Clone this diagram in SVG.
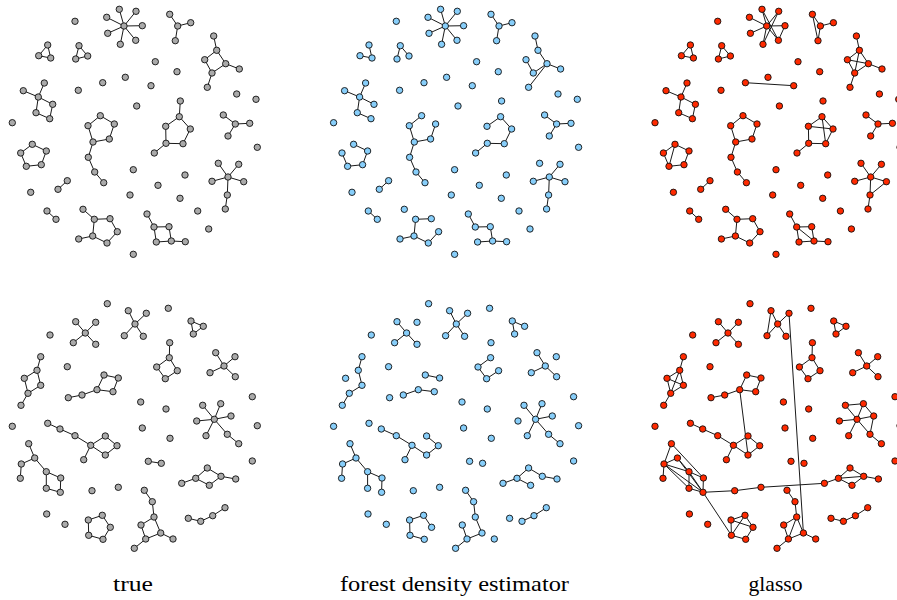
<svg xmlns="http://www.w3.org/2000/svg" width="897" height="600" viewBox="0 0 897 600">
<style>
.edges path{fill:none;stroke:#1a1a1a;stroke-width:1}
circle{r:3.2px;stroke:#111;stroke-width:0.9}
.true circle{fill:#aaaaaa}
.fde circle{fill:#87cefa}
.gl circle{fill:#ff2a00}
text{font-family:"Liberation Serif","Times New Roman",serif;font-size:21px;fill:#000;text-anchor:middle}
</style>
<rect width="897" height="600" fill="#fff"/>

<!-- ===== top row, panel 1: true graph ===== -->
<g id="true-top" class="true">
<g class="edges"><path d="M124 26L119.3 9.3M124 26L136 11.3M124 26L106.7 17.3M124 26L142.3 25.7M124 26L107.7 33.3M124 26L120.3 44.3M124 26L135.7 40.3M177.7 26L169.7 14.3M177.7 26L190.7 22.7M177.7 26L175.3 40.7M47.7 45L38.7 55.7L50.7 58ZM79 45.7L75.7 59L87.7 56ZM213.7 36L216.7 50.3L204.7 59.7L212 73L225.7 63.7L216.7 50.3M225.7 63.7L239.3 69M212 73L207.3 87.3M44.3 83L38.3 97L23.3 90.7M38.3 97L52.7 104.3L49.7 118.7L36 112.7L38.3 97M100.3 115.7L88 125.7L93 142L109.3 139L114.3 124ZM93 142L88.3 157.3L94.7 172L103.7 182.7M180.3 101L179.3 116.7L165.7 126.3L166 143.3L183 143.7L190.3 129L179.3 116.7M166 143.3L154.3 153M223.3 115L235.3 124L249.7 123.3M235.3 124L228 136M32.3 144.3L20.7 153L26.3 166.3L41.3 164.7L46.3 151ZM67.3 180.7L58 189.3M47 211L56 219.3M228 177L218.3 163.3M228 177L238.7 164.3M228 177L212 181.3M228 177L243.7 181.7M228 177L227.3 195L225.3 209M83 209.3L94.3 219.3L110 218.7L117.3 231.7L107 243L92.7 236L94.3 219.3M92.7 236L78.7 239M147 214L154 227L169 226.7L171.3 241L156.3 242L154 227M171.3 241L185.3 241.7"/></g>
<g class="nodes">
<g id="tt01"><circle cx="75" cy="21.3"/></g><g id="tt02"><circle cx="124" cy="26"/></g><g id="tt03"><circle cx="119.3" cy="9.3"/></g><g id="tt04"><circle cx="136" cy="11.3"/></g><g id="tt05"><circle cx="106.7" cy="17.3"/></g><g id="tt06"><circle cx="142.3" cy="25.7"/></g><g id="tt07"><circle cx="107.7" cy="33.3"/></g><g id="tt08"><circle cx="120.3" cy="44.3"/></g><g id="tt09"><circle cx="135.7" cy="40.3"/></g><g id="tt10"><circle cx="177.7" cy="26"/></g>
<g id="tt11"><circle cx="169.7" cy="14.3"/></g><g id="tt12"><circle cx="190.7" cy="22.7"/></g><g id="tt13"><circle cx="175.3" cy="40.7"/></g><g id="tt14"><circle cx="47.7" cy="45"/></g><g id="tt15"><circle cx="38.7" cy="55.7"/></g><g id="tt16"><circle cx="50.7" cy="58"/></g><g id="tt17"><circle cx="79" cy="45.7"/></g><g id="tt18"><circle cx="75.7" cy="59"/></g><g id="tt19"><circle cx="87.7" cy="56"/></g><g id="tt20"><circle cx="213.7" cy="36"/></g>
<g id="tt21"><circle cx="216.7" cy="50.3"/></g><g id="tt22"><circle cx="204.7" cy="59.7"/></g><g id="tt23"><circle cx="225.7" cy="63.7"/></g><g id="tt24"><circle cx="239.3" cy="69"/></g><g id="tt25"><circle cx="212" cy="73"/></g><g id="tt26"><circle cx="207.3" cy="87.3"/></g><g id="tt27"><circle cx="155.3" cy="61.7"/></g><g id="tt28"><circle cx="177" cy="71.7"/></g><g id="tt29"><circle cx="125.3" cy="77.3"/></g><g id="tt30"><circle cx="102.7" cy="82.7"/></g>
<g id="tt31"><circle cx="78.3" cy="90.3"/></g><g id="tt32"><circle cx="151" cy="85.7"/></g><g id="tt33"><circle cx="136.7" cy="106"/></g><g id="tt34"><circle cx="236.7" cy="94"/></g><g id="tt35"><circle cx="256" cy="99.3"/></g><g id="tt36"><circle cx="12.3" cy="122.7"/></g><g id="tt37"><circle cx="44.3" cy="83"/></g><g id="tt38"><circle cx="23.3" cy="90.7"/></g><g id="tt39"><circle cx="38.3" cy="97"/></g><g id="tt40"><circle cx="52.7" cy="104.3"/></g>
<g id="tt41"><circle cx="36" cy="112.7"/></g><g id="tt42"><circle cx="49.7" cy="118.7"/></g><g id="tt43"><circle cx="100.3" cy="115.7"/></g><g id="tt44"><circle cx="88" cy="125.7"/></g><g id="tt45"><circle cx="114.3" cy="124"/></g><g id="tt46"><circle cx="93" cy="142"/></g><g id="tt47"><circle cx="109.3" cy="139"/></g><g id="tt48"><circle cx="88.3" cy="157.3"/></g><g id="tt49"><circle cx="94.7" cy="172"/></g><g id="tt50"><circle cx="103.7" cy="182.7"/></g>
<g id="tt51"><circle cx="180.3" cy="101"/></g><g id="tt52"><circle cx="179.3" cy="116.7"/></g><g id="tt53"><circle cx="165.7" cy="126.3"/></g><g id="tt54"><circle cx="190.3" cy="129"/></g><g id="tt55"><circle cx="166" cy="143.3"/></g><g id="tt56"><circle cx="183" cy="143.7"/></g><g id="tt57"><circle cx="154.3" cy="153"/></g><g id="tt58"><circle cx="223.3" cy="115"/></g><g id="tt59"><circle cx="235.3" cy="124"/></g><g id="tt60"><circle cx="249.7" cy="123.3"/></g>
<g id="tt61"><circle cx="228" cy="136"/></g><g id="tt62"><circle cx="257.3" cy="147.3"/></g><g id="tt63"><circle cx="32.3" cy="144.3"/></g><g id="tt64"><circle cx="20.7" cy="153"/></g><g id="tt65"><circle cx="46.3" cy="151"/></g><g id="tt66"><circle cx="26.3" cy="166.3"/></g><g id="tt67"><circle cx="41.3" cy="164.7"/></g><g id="tt68"><circle cx="133.3" cy="169.7"/></g><g id="tt69"><circle cx="185" cy="175"/></g><g id="tt70"><circle cx="158" cy="185.3"/></g>
<g id="tt71"><circle cx="30.7" cy="192.3"/></g><g id="tt72"><circle cx="130" cy="195"/></g><g id="tt73"><circle cx="180" cy="198.3"/></g><g id="tt74"><circle cx="197.7" cy="211"/></g><g id="tt75"><circle cx="208.7" cy="229"/></g><g id="tt76"><circle cx="133.3" cy="254.3"/></g><g id="tt77"><circle cx="67.3" cy="180.7"/></g><g id="tt78"><circle cx="58" cy="189.3"/></g><g id="tt79"><circle cx="47" cy="211"/></g><g id="tt80"><circle cx="56" cy="219.3"/></g>
<g id="tt81"><circle cx="228" cy="177"/></g><g id="tt82"><circle cx="218.3" cy="163.3"/></g><g id="tt83"><circle cx="238.7" cy="164.3"/></g><g id="tt84"><circle cx="212" cy="181.3"/></g><g id="tt85"><circle cx="243.7" cy="181.7"/></g><g id="tt86"><circle cx="227.3" cy="195"/></g><g id="tt87"><circle cx="225.3" cy="209"/></g><g id="tt88"><circle cx="83" cy="209.3"/></g><g id="tt89"><circle cx="94.3" cy="219.3"/></g><g id="tt90"><circle cx="110" cy="218.7"/></g>
<g id="tt91"><circle cx="117.3" cy="231.7"/></g><g id="tt92"><circle cx="92.7" cy="236"/></g><g id="tt93"><circle cx="107" cy="243"/></g><g id="tt94"><circle cx="78.7" cy="239"/></g><g id="tt95"><circle cx="147" cy="214"/></g><g id="tt96"><circle cx="154" cy="227"/></g><g id="tt97"><circle cx="169" cy="226.7"/></g><g id="tt98"><circle cx="156.3" cy="242"/></g><g id="tt99"><circle cx="171.3" cy="241"/></g><g id="tt100"><circle cx="185.3" cy="241.7"/></g>
</g>
</g>

<!-- ===== top row, panel 2: forest density estimator ===== -->
<g id="fde-top" class="fde" transform="translate(321.3 0)">
<g class="edges"><path d="M124 26L119.3 9.3M124 26L136 11.3M124 26L106.7 17.3M124 26L142.3 25.7M124 26L107.7 33.3M124 26L120.3 44.3M124 26L135.7 40.3M177.7 26L169.7 14.3M177.7 26L190.7 22.7M177.7 26L175.3 40.7M47.7 45L50.7 58L38.7 55.7M75.7 59L79 45.7L87.7 56M213.7 36L216.7 50.3L225.7 63.7L239.3 69M204.7 59.7L212 73L225.7 63.7L207.3 87.3M44.3 83L38.3 97L23.3 90.7M38.3 97L52.7 104.3M38.3 97L36 112.7L49.7 118.7M100.3 115.7L88 125.7L93 142L109.3 139L114.3 124M93 142L88.3 157.3L94.7 172L103.7 182.7M165.7 126.3L179.3 116.7L190.3 129L183 143.7L166 143.3L154.3 153M223.3 115L235.3 124L249.7 123.3M235.3 124L228 136M32.3 144.3L46.3 151L41.3 164.7L26.3 166.3L20.7 153M67.3 180.7L58 189.3M47 211L56 219.3M228 177L238.7 164.3M228 177L212 181.3M228 177L243.7 181.7M228 177L227.3 195L225.3 209M110 218.7L94.3 219.3L92.7 236L78.7 239M92.7 236L107 243L117.3 231.7M147 214L154 227L169 226.7L171.3 241L156.3 242M171.3 241L185.3 241.7"/></g>
<g class="nodes">
<g id="ft01"><circle cx="75" cy="21.3"/></g><g id="ft02"><circle cx="124" cy="26"/></g><g id="ft03"><circle cx="119.3" cy="9.3"/></g><g id="ft04"><circle cx="136" cy="11.3"/></g><g id="ft05"><circle cx="106.7" cy="17.3"/></g><g id="ft06"><circle cx="142.3" cy="25.7"/></g><g id="ft07"><circle cx="107.7" cy="33.3"/></g><g id="ft08"><circle cx="120.3" cy="44.3"/></g><g id="ft09"><circle cx="135.7" cy="40.3"/></g><g id="ft10"><circle cx="177.7" cy="26"/></g>
<g id="ft11"><circle cx="169.7" cy="14.3"/></g><g id="ft12"><circle cx="190.7" cy="22.7"/></g><g id="ft13"><circle cx="175.3" cy="40.7"/></g><g id="ft14"><circle cx="47.7" cy="45"/></g><g id="ft15"><circle cx="38.7" cy="55.7"/></g><g id="ft16"><circle cx="50.7" cy="58"/></g><g id="ft17"><circle cx="79" cy="45.7"/></g><g id="ft18"><circle cx="75.7" cy="59"/></g><g id="ft19"><circle cx="87.7" cy="56"/></g><g id="ft20"><circle cx="213.7" cy="36"/></g>
<g id="ft21"><circle cx="216.7" cy="50.3"/></g><g id="ft22"><circle cx="204.7" cy="59.7"/></g><g id="ft23"><circle cx="225.7" cy="63.7"/></g><g id="ft24"><circle cx="239.3" cy="69"/></g><g id="ft25"><circle cx="212" cy="73"/></g><g id="ft26"><circle cx="207.3" cy="87.3"/></g><g id="ft27"><circle cx="155.3" cy="61.7"/></g><g id="ft28"><circle cx="177" cy="71.7"/></g><g id="ft29"><circle cx="125.3" cy="77.3"/></g><g id="ft30"><circle cx="102.7" cy="82.7"/></g>
<g id="ft31"><circle cx="78.3" cy="90.3"/></g><g id="ft32"><circle cx="151" cy="85.7"/></g><g id="ft33"><circle cx="136.7" cy="106"/></g><g id="ft34"><circle cx="236.7" cy="94"/></g><g id="ft35"><circle cx="256" cy="99.3"/></g><g id="ft36"><circle cx="12.3" cy="122.7"/></g><g id="ft37"><circle cx="44.3" cy="83"/></g><g id="ft38"><circle cx="23.3" cy="90.7"/></g><g id="ft39"><circle cx="38.3" cy="97"/></g><g id="ft40"><circle cx="52.7" cy="104.3"/></g>
<g id="ft41"><circle cx="36" cy="112.7"/></g><g id="ft42"><circle cx="49.7" cy="118.7"/></g><g id="ft43"><circle cx="100.3" cy="115.7"/></g><g id="ft44"><circle cx="88" cy="125.7"/></g><g id="ft45"><circle cx="114.3" cy="124"/></g><g id="ft46"><circle cx="93" cy="142"/></g><g id="ft47"><circle cx="109.3" cy="139"/></g><g id="ft48"><circle cx="88.3" cy="157.3"/></g><g id="ft49"><circle cx="94.7" cy="172"/></g><g id="ft50"><circle cx="103.7" cy="182.7"/></g>
<g id="ft51"><circle cx="180.3" cy="101"/></g><g id="ft52"><circle cx="179.3" cy="116.7"/></g><g id="ft53"><circle cx="165.7" cy="126.3"/></g><g id="ft54"><circle cx="190.3" cy="129"/></g><g id="ft55"><circle cx="166" cy="143.3"/></g><g id="ft56"><circle cx="183" cy="143.7"/></g><g id="ft57"><circle cx="154.3" cy="153"/></g><g id="ft58"><circle cx="223.3" cy="115"/></g><g id="ft59"><circle cx="235.3" cy="124"/></g><g id="ft60"><circle cx="249.7" cy="123.3"/></g>
<g id="ft61"><circle cx="228" cy="136"/></g><g id="ft62"><circle cx="257.3" cy="147.3"/></g><g id="ft63"><circle cx="32.3" cy="144.3"/></g><g id="ft64"><circle cx="20.7" cy="153"/></g><g id="ft65"><circle cx="46.3" cy="151"/></g><g id="ft66"><circle cx="26.3" cy="166.3"/></g><g id="ft67"><circle cx="41.3" cy="164.7"/></g><g id="ft68"><circle cx="133.3" cy="169.7"/></g><g id="ft69"><circle cx="185" cy="175"/></g><g id="ft70"><circle cx="158" cy="185.3"/></g>
<g id="ft71"><circle cx="30.7" cy="192.3"/></g><g id="ft72"><circle cx="130" cy="195"/></g><g id="ft73"><circle cx="180" cy="198.3"/></g><g id="ft74"><circle cx="197.7" cy="211"/></g><g id="ft75"><circle cx="208.7" cy="229"/></g><g id="ft76"><circle cx="133.3" cy="254.3"/></g><g id="ft77"><circle cx="67.3" cy="180.7"/></g><g id="ft78"><circle cx="58" cy="189.3"/></g><g id="ft79"><circle cx="47" cy="211"/></g><g id="ft80"><circle cx="56" cy="219.3"/></g>
<g id="ft81"><circle cx="228" cy="177"/></g><g id="ft82"><circle cx="218.3" cy="163.3"/></g><g id="ft83"><circle cx="238.7" cy="164.3"/></g><g id="ft84"><circle cx="212" cy="181.3"/></g><g id="ft85"><circle cx="243.7" cy="181.7"/></g><g id="ft86"><circle cx="227.3" cy="195"/></g><g id="ft87"><circle cx="225.3" cy="209"/></g><g id="ft88"><circle cx="83" cy="209.3"/></g><g id="ft89"><circle cx="94.3" cy="219.3"/></g><g id="ft90"><circle cx="110" cy="218.7"/></g>
<g id="ft91"><circle cx="117.3" cy="231.7"/></g><g id="ft92"><circle cx="92.7" cy="236"/></g><g id="ft93"><circle cx="107" cy="243"/></g><g id="ft94"><circle cx="78.7" cy="239"/></g><g id="ft95"><circle cx="147" cy="214"/></g><g id="ft96"><circle cx="154" cy="227"/></g><g id="ft97"><circle cx="169" cy="226.7"/></g><g id="ft98"><circle cx="156.3" cy="242"/></g><g id="ft99"><circle cx="171.3" cy="241"/></g><g id="ft100"><circle cx="185.3" cy="241.7"/></g>
</g>
</g>

<!-- ===== top row, panel 3: glasso ===== -->
<g id="glasso-top" class="gl" transform="translate(642.7 0)">
<g class="edges"><path d="M124 26L119.3 9.3M124 26L136 11.3M124 26L106.7 17.3M124 26L142.3 25.7M124 26L107.7 33.3M124 26L120.3 44.3M124 26L135.7 40.3M119.3 9.3L135.7 40.3M136 11.3L120.3 44.3M142.3 25.7L135.7 40.3M177.7 26L169.7 14.3M177.7 26L190.7 22.7M177.7 26L175.3 40.7M169.7 14.3L175.3 40.7M47.7 45L38.7 55.7L50.7 58ZM79 45.7L75.7 59L87.7 56ZM213.7 36L216.7 50.3L204.7 59.7L212 73L225.7 63.7L216.7 50.3L212 73M204.7 59.7L225.7 63.7L239.3 69M212 73L207.3 87.3M102.7 82.7L151 85.7M44.3 83L38.3 97L23.3 90.7M38.3 97L52.7 104.3L49.7 118.7L36 112.7L38.3 97M100.3 115.7L88 125.7L93 142L109.3 139L114.3 124ZM93 142L88.3 157.3L94.7 172L103.7 182.7M179.3 116.7L165.7 126.3L190.3 129ZM165.7 126.3L166 143.3L183 143.7L190.3 129M179.3 116.7L183 143.7M166 143.3L154.3 153M223.3 115L235.3 124L249.7 123.3M235.3 124L228 136M32.3 144.3L20.7 153L26.3 166.3L41.3 164.7L46.3 151ZM32.3 144.3L26.3 166.3M67.3 180.7L58 189.3M47 211L56 219.3M228 177L218.3 163.3M228 177L238.7 164.3M228 177L212 181.3M228 177L243.7 181.7M228 177L227.3 195L225.3 209M227.3 195L243.7 181.7M83 209.3L94.3 219.3L110 218.7L117.3 231.7L107 243L92.7 236L94.3 219.3M92.7 236L78.7 239M147 214L154 227L169 226.7L171.3 241L156.3 242L154 227L171.3 241M171.3 241L185.3 241.7"/></g>
<g class="nodes">
<g id="gt01"><circle cx="75" cy="21.3"/></g><g id="gt02"><circle cx="124" cy="26"/></g><g id="gt03"><circle cx="119.3" cy="9.3"/></g><g id="gt04"><circle cx="136" cy="11.3"/></g><g id="gt05"><circle cx="106.7" cy="17.3"/></g><g id="gt06"><circle cx="142.3" cy="25.7"/></g><g id="gt07"><circle cx="107.7" cy="33.3"/></g><g id="gt08"><circle cx="120.3" cy="44.3"/></g><g id="gt09"><circle cx="135.7" cy="40.3"/></g><g id="gt10"><circle cx="177.7" cy="26"/></g>
<g id="gt11"><circle cx="169.7" cy="14.3"/></g><g id="gt12"><circle cx="190.7" cy="22.7"/></g><g id="gt13"><circle cx="175.3" cy="40.7"/></g><g id="gt14"><circle cx="47.7" cy="45"/></g><g id="gt15"><circle cx="38.7" cy="55.7"/></g><g id="gt16"><circle cx="50.7" cy="58"/></g><g id="gt17"><circle cx="79" cy="45.7"/></g><g id="gt18"><circle cx="75.7" cy="59"/></g><g id="gt19"><circle cx="87.7" cy="56"/></g><g id="gt20"><circle cx="213.7" cy="36"/></g>
<g id="gt21"><circle cx="216.7" cy="50.3"/></g><g id="gt22"><circle cx="204.7" cy="59.7"/></g><g id="gt23"><circle cx="225.7" cy="63.7"/></g><g id="gt24"><circle cx="239.3" cy="69"/></g><g id="gt25"><circle cx="212" cy="73"/></g><g id="gt26"><circle cx="207.3" cy="87.3"/></g><g id="gt27"><circle cx="155.3" cy="61.7"/></g><g id="gt28"><circle cx="177" cy="71.7"/></g><g id="gt29"><circle cx="125.3" cy="77.3"/></g><g id="gt30"><circle cx="102.7" cy="82.7"/></g>
<g id="gt31"><circle cx="78.3" cy="90.3"/></g><g id="gt32"><circle cx="151" cy="85.7"/></g><g id="gt33"><circle cx="136.7" cy="106"/></g><g id="gt34"><circle cx="236.7" cy="94"/></g><g id="gt35"><circle cx="256" cy="99.3"/></g><g id="gt36"><circle cx="12.3" cy="122.7"/></g><g id="gt37"><circle cx="44.3" cy="83"/></g><g id="gt38"><circle cx="23.3" cy="90.7"/></g><g id="gt39"><circle cx="38.3" cy="97"/></g><g id="gt40"><circle cx="52.7" cy="104.3"/></g>
<g id="gt41"><circle cx="36" cy="112.7"/></g><g id="gt42"><circle cx="49.7" cy="118.7"/></g><g id="gt43"><circle cx="100.3" cy="115.7"/></g><g id="gt44"><circle cx="88" cy="125.7"/></g><g id="gt45"><circle cx="114.3" cy="124"/></g><g id="gt46"><circle cx="93" cy="142"/></g><g id="gt47"><circle cx="109.3" cy="139"/></g><g id="gt48"><circle cx="88.3" cy="157.3"/></g><g id="gt49"><circle cx="94.7" cy="172"/></g><g id="gt50"><circle cx="103.7" cy="182.7"/></g>
<g id="gt51"><circle cx="180.3" cy="101"/></g><g id="gt52"><circle cx="179.3" cy="116.7"/></g><g id="gt53"><circle cx="165.7" cy="126.3"/></g><g id="gt54"><circle cx="190.3" cy="129"/></g><g id="gt55"><circle cx="166" cy="143.3"/></g><g id="gt56"><circle cx="183" cy="143.7"/></g><g id="gt57"><circle cx="154.3" cy="153"/></g><g id="gt58"><circle cx="223.3" cy="115"/></g><g id="gt59"><circle cx="235.3" cy="124"/></g><g id="gt60"><circle cx="249.7" cy="123.3"/></g>
<g id="gt61"><circle cx="228" cy="136"/></g><g id="gt62"><circle cx="257.3" cy="147.3"/></g><g id="gt63"><circle cx="32.3" cy="144.3"/></g><g id="gt64"><circle cx="20.7" cy="153"/></g><g id="gt65"><circle cx="46.3" cy="151"/></g><g id="gt66"><circle cx="26.3" cy="166.3"/></g><g id="gt67"><circle cx="41.3" cy="164.7"/></g><g id="gt68"><circle cx="133.3" cy="169.7"/></g><g id="gt69"><circle cx="185" cy="175"/></g><g id="gt70"><circle cx="158" cy="185.3"/></g>
<g id="gt71"><circle cx="30.7" cy="192.3"/></g><g id="gt72"><circle cx="130" cy="195"/></g><g id="gt73"><circle cx="180" cy="198.3"/></g><g id="gt74"><circle cx="197.7" cy="211"/></g><g id="gt75"><circle cx="208.7" cy="229"/></g><g id="gt76"><circle cx="133.3" cy="254.3"/></g><g id="gt77"><circle cx="67.3" cy="180.7"/></g><g id="gt78"><circle cx="58" cy="189.3"/></g><g id="gt79"><circle cx="47" cy="211"/></g><g id="gt80"><circle cx="56" cy="219.3"/></g>
<g id="gt81"><circle cx="228" cy="177"/></g><g id="gt82"><circle cx="218.3" cy="163.3"/></g><g id="gt83"><circle cx="238.7" cy="164.3"/></g><g id="gt84"><circle cx="212" cy="181.3"/></g><g id="gt85"><circle cx="243.7" cy="181.7"/></g><g id="gt86"><circle cx="227.3" cy="195"/></g><g id="gt87"><circle cx="225.3" cy="209"/></g><g id="gt88"><circle cx="83" cy="209.3"/></g><g id="gt89"><circle cx="94.3" cy="219.3"/></g><g id="gt90"><circle cx="110" cy="218.7"/></g>
<g id="gt91"><circle cx="117.3" cy="231.7"/></g><g id="gt92"><circle cx="92.7" cy="236"/></g><g id="gt93"><circle cx="107" cy="243"/></g><g id="gt94"><circle cx="78.7" cy="239"/></g><g id="gt95"><circle cx="147" cy="214"/></g><g id="gt96"><circle cx="154" cy="227"/></g><g id="gt97"><circle cx="169" cy="226.7"/></g><g id="gt98"><circle cx="156.3" cy="242"/></g><g id="gt99"><circle cx="171.3" cy="241"/></g><g id="gt100"><circle cx="185.3" cy="241.7"/></g>
</g>
</g>

<!-- ===== bottom row, panel 1: true graph ===== -->
<g id="true-bottom" class="true">
<g class="edges"><path d="M85.3 333L75.7 321.7M85.3 333L95.7 322.3M85.3 333L73.3 342.7M85.3 333L95.7 344.3M135 324L128.3 310.7M135 324L146.3 313.3M135 324L124.3 335.7M135 324L143.3 336.3M191 321L203.3 326.3L193.3 334ZM169.7 342.7L169.3 357.7L156.7 367L165.3 378.7L177.3 370.7L169.3 357.7M224 366L215.7 352.7M224 366L235 356.7M224 366L210 372.7M224 366L235.3 376.7M40.7 356.7L37 370.3L24.3 378.3L28 393.3L40.7 385.3L37 370.3M28 393.3L21 405.3M104 375L118.3 378L113 391.7L97 389.7ZM97 389.7L82 395L68.3 397.7M214.3 419.3L202.7 405.3M214.3 419.3L220.7 403.7M214.3 419.3L231 416M214.3 419.3L196.7 421M214.3 419.3L206 435.7M214.3 419.3L227.3 434.3L238.7 443.7M47.7 423.3L60 429L75 435.7L90.7 445.3L105.3 436L117 445.7L105.3 455L90.7 445.3L83.7 459.7M28.7 443.7L34.7 458L21.3 464L20.3 478.3M34.7 458L46.3 471.7L60.7 478L60.3 492.3L46.3 488.3L46.3 471.7M148.3 461.3L161.3 463.3M181.7 483.3L195.7 478.3L207.3 468L221 476.3L209.3 485.3L195.7 478.3M221 476.3L235.7 479M144.3 490.3L152.3 501.7L154 517L141 525L145.7 539L160.7 533L154 517M160.7 533L173 539M145.7 539L134.3 548.3M88.3 520L102.3 515.3L110.3 527.3L103 539.3L88.7 535.3ZM188.3 518.3L200.7 521.3L212.7 515.7L225 507.7"/></g>
<g class="nodes">
<g id="tb01"><circle cx="107.3" cy="303.7"/></g><g id="tb02"><circle cx="168.3" cy="308.3"/></g><g id="tb03"><circle cx="85.3" cy="333"/></g><g id="tb04"><circle cx="75.7" cy="321.7"/></g><g id="tb05"><circle cx="95.7" cy="322.3"/></g><g id="tb06"><circle cx="73.3" cy="342.7"/></g><g id="tb07"><circle cx="95.7" cy="344.3"/></g><g id="tb08"><circle cx="135" cy="324"/></g><g id="tb09"><circle cx="128.3" cy="310.7"/></g><g id="tb10"><circle cx="146.3" cy="313.3"/></g>
<g id="tb11"><circle cx="124.3" cy="335.7"/></g><g id="tb12"><circle cx="143.3" cy="336.3"/></g><g id="tb13"><circle cx="191" cy="321"/></g><g id="tb14"><circle cx="203.3" cy="326.3"/></g><g id="tb15"><circle cx="193.3" cy="334"/></g><g id="tb16"><circle cx="50" cy="335"/></g><g id="tb17"><circle cx="169.7" cy="342.7"/></g><g id="tb18"><circle cx="169.3" cy="357.7"/></g><g id="tb19"><circle cx="156.7" cy="367"/></g><g id="tb20"><circle cx="177.3" cy="370.7"/></g>
<g id="tb21"><circle cx="165.3" cy="378.7"/></g><g id="tb22"><circle cx="224" cy="366"/></g><g id="tb23"><circle cx="215.7" cy="352.7"/></g><g id="tb24"><circle cx="235" cy="356.7"/></g><g id="tb25"><circle cx="210" cy="372.7"/></g><g id="tb26"><circle cx="235.3" cy="376.7"/></g><g id="tb27"><circle cx="40.7" cy="356.7"/></g><g id="tb28"><circle cx="37" cy="370.3"/></g><g id="tb29"><circle cx="24.3" cy="378.3"/></g><g id="tb30"><circle cx="40.7" cy="385.3"/></g>
<g id="tb31"><circle cx="28" cy="393.3"/></g><g id="tb32"><circle cx="21" cy="405.3"/></g><g id="tb33"><circle cx="67.3" cy="366.7"/></g><g id="tb34"><circle cx="104" cy="375"/></g><g id="tb35"><circle cx="118.3" cy="378"/></g><g id="tb36"><circle cx="97" cy="389.7"/></g><g id="tb37"><circle cx="113" cy="391.7"/></g><g id="tb38"><circle cx="82" cy="395"/></g><g id="tb39"><circle cx="68.3" cy="397.7"/></g><g id="tb40"><circle cx="140.7" cy="402"/></g>
<g id="tb41"><circle cx="166" cy="409"/></g><g id="tb42"><circle cx="252.3" cy="396.7"/></g><g id="tb43"><circle cx="214.3" cy="419.3"/></g><g id="tb44"><circle cx="202.7" cy="405.3"/></g><g id="tb45"><circle cx="220.7" cy="403.7"/></g><g id="tb46"><circle cx="231" cy="416"/></g><g id="tb47"><circle cx="196.7" cy="421"/></g><g id="tb48"><circle cx="206" cy="435.7"/></g><g id="tb49"><circle cx="227.3" cy="434.3"/></g><g id="tb50"><circle cx="238.7" cy="443.7"/></g>
<g id="tb51"><circle cx="12.3" cy="426.3"/></g><g id="tb52"><circle cx="142.3" cy="428"/></g><g id="tb53"><circle cx="257.3" cy="425.7"/></g><g id="tb54"><circle cx="47.7" cy="423.3"/></g><g id="tb55"><circle cx="60" cy="429"/></g><g id="tb56"><circle cx="75" cy="435.7"/></g><g id="tb57"><circle cx="90.7" cy="445.3"/></g><g id="tb58"><circle cx="105.3" cy="436"/></g><g id="tb59"><circle cx="117" cy="445.7"/></g><g id="tb60"><circle cx="105.3" cy="455"/></g>
<g id="tb61"><circle cx="83.7" cy="459.7"/></g><g id="tb62"><circle cx="170" cy="438.3"/></g><g id="tb63"><circle cx="28.7" cy="443.7"/></g><g id="tb64"><circle cx="34.7" cy="458"/></g><g id="tb65"><circle cx="21.3" cy="464"/></g><g id="tb66"><circle cx="20.3" cy="478.3"/></g><g id="tb67"><circle cx="46.3" cy="471.7"/></g><g id="tb68"><circle cx="60.7" cy="478"/></g><g id="tb69"><circle cx="46.3" cy="488.3"/></g><g id="tb70"><circle cx="60.3" cy="492.3"/></g>
<g id="tb71"><circle cx="148.3" cy="461.3"/></g><g id="tb72"><circle cx="161.3" cy="463.3"/></g><g id="tb73"><circle cx="252.3" cy="461"/></g><g id="tb74"><circle cx="181.7" cy="483.3"/></g><g id="tb75"><circle cx="195.7" cy="478.3"/></g><g id="tb76"><circle cx="207.3" cy="468"/></g><g id="tb77"><circle cx="209.3" cy="485.3"/></g><g id="tb78"><circle cx="221" cy="476.3"/></g><g id="tb79"><circle cx="235.7" cy="479"/></g><g id="tb80"><circle cx="92" cy="490.7"/></g>
<g id="tb81"><circle cx="118.3" cy="487.3"/></g><g id="tb82"><circle cx="144.3" cy="490.3"/></g><g id="tb83"><circle cx="152.3" cy="501.7"/></g><g id="tb84"><circle cx="154" cy="517"/></g><g id="tb85"><circle cx="141" cy="525"/></g><g id="tb86"><circle cx="160.7" cy="533"/></g><g id="tb87"><circle cx="145.7" cy="539"/></g><g id="tb88"><circle cx="173" cy="539"/></g><g id="tb89"><circle cx="134.3" cy="548.3"/></g><g id="tb90"><circle cx="46.7" cy="514"/></g>
<g id="tb91"><circle cx="65" cy="524.3"/></g><g id="tb92"><circle cx="88.3" cy="520"/></g><g id="tb93"><circle cx="102.3" cy="515.3"/></g><g id="tb94"><circle cx="110.3" cy="527.3"/></g><g id="tb95"><circle cx="88.7" cy="535.3"/></g><g id="tb96"><circle cx="103" cy="539.3"/></g><g id="tb97"><circle cx="188.3" cy="518.3"/></g><g id="tb98"><circle cx="200.7" cy="521.3"/></g><g id="tb99"><circle cx="212.7" cy="515.7"/></g><g id="tb100"><circle cx="225" cy="507.7"/></g>
</g>
</g>

<!-- ===== bottom row, panel 2: forest density estimator ===== -->
<g id="fde-bottom" class="fde" transform="translate(321.3 0)">
<g class="edges"><path d="M85.3 333L75.7 321.7M85.3 333L73.3 342.7M85.3 333L95.7 344.3M135 324L128.3 310.7M135 324L146.3 313.3M135 324L124.3 335.7M135 324L143.3 336.3M203.3 326.3L191 321L193.3 334M169.3 357.7L156.7 367L165.3 378.7L177.3 370.7M224 366L215.7 352.7M224 366L210 372.7M224 366L235.3 376.7M40.7 356.7L37 370.3L40.7 385.3L28 393.3L21 405.3M104 375L118.3 378M113 391.7L97 389.7L82 395M214.3 419.3L202.7 405.3M214.3 419.3L220.7 403.7M214.3 419.3L231 416M214.3 419.3L206 435.7M214.3 419.3L227.3 434.3L238.7 443.7M60 429L75 435.7L90.7 445.3L83.7 459.7M90.7 445.3L105.3 455L117 445.7L105.3 436M28.7 443.7L34.7 458L21.3 464L20.3 478.3M34.7 458L46.3 471.7L60.7 478L60.3 492.3M46.3 471.7L46.3 488.3M181.7 483.3L195.7 478.3L207.3 468L221 476.3L235.7 479M195.7 478.3L209.3 485.3M144.3 490.3L152.3 501.7L154 517L160.7 533L145.7 539L141 525M145.7 539L134.3 548.3M88.7 535.3L88.3 520L102.3 515.3L110.3 527.3M88.7 535.3L103 539.3M200.7 521.3L212.7 515.7L225 507.7"/></g>
<g class="nodes">
<g id="fb01"><circle cx="107.3" cy="303.7"/></g><g id="fb02"><circle cx="168.3" cy="308.3"/></g><g id="fb03"><circle cx="85.3" cy="333"/></g><g id="fb04"><circle cx="75.7" cy="321.7"/></g><g id="fb05"><circle cx="95.7" cy="322.3"/></g><g id="fb06"><circle cx="73.3" cy="342.7"/></g><g id="fb07"><circle cx="95.7" cy="344.3"/></g><g id="fb08"><circle cx="135" cy="324"/></g><g id="fb09"><circle cx="128.3" cy="310.7"/></g><g id="fb10"><circle cx="146.3" cy="313.3"/></g>
<g id="fb11"><circle cx="124.3" cy="335.7"/></g><g id="fb12"><circle cx="143.3" cy="336.3"/></g><g id="fb13"><circle cx="191" cy="321"/></g><g id="fb14"><circle cx="203.3" cy="326.3"/></g><g id="fb15"><circle cx="193.3" cy="334"/></g><g id="fb16"><circle cx="50" cy="335"/></g><g id="fb17"><circle cx="169.7" cy="342.7"/></g><g id="fb18"><circle cx="169.3" cy="357.7"/></g><g id="fb19"><circle cx="156.7" cy="367"/></g><g id="fb20"><circle cx="177.3" cy="370.7"/></g>
<g id="fb21"><circle cx="165.3" cy="378.7"/></g><g id="fb22"><circle cx="224" cy="366"/></g><g id="fb23"><circle cx="215.7" cy="352.7"/></g><g id="fb24"><circle cx="235" cy="356.7"/></g><g id="fb25"><circle cx="210" cy="372.7"/></g><g id="fb26"><circle cx="235.3" cy="376.7"/></g><g id="fb27"><circle cx="40.7" cy="356.7"/></g><g id="fb28"><circle cx="37" cy="370.3"/></g><g id="fb29"><circle cx="24.3" cy="378.3"/></g><g id="fb30"><circle cx="40.7" cy="385.3"/></g>
<g id="fb31"><circle cx="28" cy="393.3"/></g><g id="fb32"><circle cx="21" cy="405.3"/></g><g id="fb33"><circle cx="67.3" cy="366.7"/></g><g id="fb34"><circle cx="104" cy="375"/></g><g id="fb35"><circle cx="118.3" cy="378"/></g><g id="fb36"><circle cx="97" cy="389.7"/></g><g id="fb37"><circle cx="113" cy="391.7"/></g><g id="fb38"><circle cx="82" cy="395"/></g><g id="fb39"><circle cx="68.3" cy="397.7"/></g><g id="fb40"><circle cx="140.7" cy="402"/></g>
<g id="fb41"><circle cx="166" cy="409"/></g><g id="fb42"><circle cx="252.3" cy="396.7"/></g><g id="fb43"><circle cx="214.3" cy="419.3"/></g><g id="fb44"><circle cx="202.7" cy="405.3"/></g><g id="fb45"><circle cx="220.7" cy="403.7"/></g><g id="fb46"><circle cx="231" cy="416"/></g><g id="fb47"><circle cx="196.7" cy="421"/></g><g id="fb48"><circle cx="206" cy="435.7"/></g><g id="fb49"><circle cx="227.3" cy="434.3"/></g><g id="fb50"><circle cx="238.7" cy="443.7"/></g>
<g id="fb51"><circle cx="12.3" cy="426.3"/></g><g id="fb52"><circle cx="142.3" cy="428"/></g><g id="fb53"><circle cx="257.3" cy="425.7"/></g><g id="fb54"><circle cx="47.7" cy="423.3"/></g><g id="fb55"><circle cx="60" cy="429"/></g><g id="fb56"><circle cx="75" cy="435.7"/></g><g id="fb57"><circle cx="90.7" cy="445.3"/></g><g id="fb58"><circle cx="105.3" cy="436"/></g><g id="fb59"><circle cx="117" cy="445.7"/></g><g id="fb60"><circle cx="105.3" cy="455"/></g>
<g id="fb61"><circle cx="83.7" cy="459.7"/></g><g id="fb62"><circle cx="170" cy="438.3"/></g><g id="fb63"><circle cx="28.7" cy="443.7"/></g><g id="fb64"><circle cx="34.7" cy="458"/></g><g id="fb65"><circle cx="21.3" cy="464"/></g><g id="fb66"><circle cx="20.3" cy="478.3"/></g><g id="fb67"><circle cx="46.3" cy="471.7"/></g><g id="fb68"><circle cx="60.7" cy="478"/></g><g id="fb69"><circle cx="46.3" cy="488.3"/></g><g id="fb70"><circle cx="60.3" cy="492.3"/></g>
<g id="fb71"><circle cx="148.3" cy="461.3"/></g><g id="fb72"><circle cx="161.3" cy="463.3"/></g><g id="fb73"><circle cx="252.3" cy="461"/></g><g id="fb74"><circle cx="181.7" cy="483.3"/></g><g id="fb75"><circle cx="195.7" cy="478.3"/></g><g id="fb76"><circle cx="207.3" cy="468"/></g><g id="fb77"><circle cx="209.3" cy="485.3"/></g><g id="fb78"><circle cx="221" cy="476.3"/></g><g id="fb79"><circle cx="235.7" cy="479"/></g><g id="fb80"><circle cx="92" cy="490.7"/></g>
<g id="fb81"><circle cx="118.3" cy="487.3"/></g><g id="fb82"><circle cx="144.3" cy="490.3"/></g><g id="fb83"><circle cx="152.3" cy="501.7"/></g><g id="fb84"><circle cx="154" cy="517"/></g><g id="fb85"><circle cx="141" cy="525"/></g><g id="fb86"><circle cx="160.7" cy="533"/></g><g id="fb87"><circle cx="145.7" cy="539"/></g><g id="fb88"><circle cx="173" cy="539"/></g><g id="fb89"><circle cx="134.3" cy="548.3"/></g><g id="fb90"><circle cx="46.7" cy="514"/></g>
<g id="fb91"><circle cx="65" cy="524.3"/></g><g id="fb92"><circle cx="88.3" cy="520"/></g><g id="fb93"><circle cx="102.3" cy="515.3"/></g><g id="fb94"><circle cx="110.3" cy="527.3"/></g><g id="fb95"><circle cx="88.7" cy="535.3"/></g><g id="fb96"><circle cx="103" cy="539.3"/></g><g id="fb97"><circle cx="188.3" cy="518.3"/></g><g id="fb98"><circle cx="200.7" cy="521.3"/></g><g id="fb99"><circle cx="212.7" cy="515.7"/></g><g id="fb100"><circle cx="225" cy="507.7"/></g>
</g>
</g>

<!-- ===== bottom row, panel 3: glasso ===== -->
<g id="glasso-bottom" class="gl" transform="translate(642.7 0)">
<g class="edges"><path d="M85.3 333L75.7 321.7M85.3 333L95.7 322.3M85.3 333L73.3 342.7M85.3 333L95.7 344.3M135 324L128.3 310.7M135 324L146.3 313.3M135 324L124.3 335.7M135 324L143.3 336.3M128.3 310.7L124.3 335.7M146.3 313.3L160.7 533M191 321L203.3 326.3L193.3 334ZM169.7 342.7L169.3 357.7L156.7 367L165.3 378.7L177.3 370.7L169.3 357.7M224 366L215.7 352.7M224 366L235 356.7M224 366L210 372.7M224 366L235.3 376.7M40.7 356.7L37 370.3M37 370.3L24.3 378.3M37 370.3L40.7 385.3M37 370.3L28 393.3M24.3 378.3L40.7 385.3L28 393.3ZM28 393.3L21 405.3M104 375L118.3 378L113 391.7L97 389.7ZM97 389.7L82 395L68.3 397.7M97 389.7L105.3 455M214.3 419.3L202.7 405.3M214.3 419.3L220.7 403.7M214.3 419.3L231 416M214.3 419.3L196.7 421M214.3 419.3L206 435.7M214.3 419.3L227.3 434.3L238.7 443.7M202.7 405.3L220.7 403.7L231 416L227.3 434.3M47.7 423.3L60 429L75 435.7L90.7 445.3L105.3 436L117 445.7L105.3 455L90.7 445.3L83.7 459.7M28.7 443.7L21.3 464M28.7 443.7L60.7 478M21.3 464L20.3 478.3M21.3 464L46.3 471.7M21.3 464L46.3 488.3M21.3 464L60.3 492.3M34.7 458L21.3 464M34.7 458L46.3 471.7M34.7 458L60.3 492.3M46.3 471.7L60.7 478M46.3 471.7L46.3 488.3M46.3 471.7L60.3 492.3M60.7 478L60.3 492.3M46.3 488.3L60.3 492.3M60.3 492.3L88.7 535.3M60.3 492.3L92 490.7L118.3 487.3L181.7 483.3M181.7 483.3L195.7 478.3L207.3 468L221 476.3L209.3 485.3L195.7 478.3L221 476.3L235.7 479M144.3 490.3L152.3 501.7L154 517L141 525L145.7 539L160.7 533L154 517L145.7 539M160.7 533L173 539M145.7 539L134.3 548.3M88.3 520L102.3 515.3L110.3 527.3L103 539.3L88.7 535.3ZM88.3 520L110.3 527.3M102.3 515.3L88.7 535.3M188.3 518.3L200.7 521.3L212.7 515.7L225 507.7"/></g>
<g class="nodes">
<g id="gb01"><circle cx="107.3" cy="303.7"/></g><g id="gb02"><circle cx="168.3" cy="308.3"/></g><g id="gb03"><circle cx="85.3" cy="333"/></g><g id="gb04"><circle cx="75.7" cy="321.7"/></g><g id="gb05"><circle cx="95.7" cy="322.3"/></g><g id="gb06"><circle cx="73.3" cy="342.7"/></g><g id="gb07"><circle cx="95.7" cy="344.3"/></g><g id="gb08"><circle cx="135" cy="324"/></g><g id="gb09"><circle cx="128.3" cy="310.7"/></g><g id="gb10"><circle cx="146.3" cy="313.3"/></g>
<g id="gb11"><circle cx="124.3" cy="335.7"/></g><g id="gb12"><circle cx="143.3" cy="336.3"/></g><g id="gb13"><circle cx="191" cy="321"/></g><g id="gb14"><circle cx="203.3" cy="326.3"/></g><g id="gb15"><circle cx="193.3" cy="334"/></g><g id="gb16"><circle cx="50" cy="335"/></g><g id="gb17"><circle cx="169.7" cy="342.7"/></g><g id="gb18"><circle cx="169.3" cy="357.7"/></g><g id="gb19"><circle cx="156.7" cy="367"/></g><g id="gb20"><circle cx="177.3" cy="370.7"/></g>
<g id="gb21"><circle cx="165.3" cy="378.7"/></g><g id="gb22"><circle cx="224" cy="366"/></g><g id="gb23"><circle cx="215.7" cy="352.7"/></g><g id="gb24"><circle cx="235" cy="356.7"/></g><g id="gb25"><circle cx="210" cy="372.7"/></g><g id="gb26"><circle cx="235.3" cy="376.7"/></g><g id="gb27"><circle cx="40.7" cy="356.7"/></g><g id="gb28"><circle cx="37" cy="370.3"/></g><g id="gb29"><circle cx="24.3" cy="378.3"/></g><g id="gb30"><circle cx="40.7" cy="385.3"/></g>
<g id="gb31"><circle cx="28" cy="393.3"/></g><g id="gb32"><circle cx="21" cy="405.3"/></g><g id="gb33"><circle cx="67.3" cy="366.7"/></g><g id="gb34"><circle cx="104" cy="375"/></g><g id="gb35"><circle cx="118.3" cy="378"/></g><g id="gb36"><circle cx="97" cy="389.7"/></g><g id="gb37"><circle cx="113" cy="391.7"/></g><g id="gb38"><circle cx="82" cy="395"/></g><g id="gb39"><circle cx="68.3" cy="397.7"/></g><g id="gb40"><circle cx="140.7" cy="402"/></g>
<g id="gb41"><circle cx="166" cy="409"/></g><g id="gb42"><circle cx="252.3" cy="396.7"/></g><g id="gb43"><circle cx="214.3" cy="419.3"/></g><g id="gb44"><circle cx="202.7" cy="405.3"/></g><g id="gb45"><circle cx="220.7" cy="403.7"/></g><g id="gb46"><circle cx="231" cy="416"/></g><g id="gb47"><circle cx="196.7" cy="421"/></g><g id="gb48"><circle cx="206" cy="435.7"/></g><g id="gb49"><circle cx="227.3" cy="434.3"/></g><g id="gb50"><circle cx="238.7" cy="443.7"/></g>
<g id="gb51"><circle cx="12.3" cy="426.3"/></g><g id="gb52"><circle cx="142.3" cy="428"/></g><g id="gb53"><circle cx="257.3" cy="425.7"/></g><g id="gb54"><circle cx="47.7" cy="423.3"/></g><g id="gb55"><circle cx="60" cy="429"/></g><g id="gb56"><circle cx="75" cy="435.7"/></g><g id="gb57"><circle cx="90.7" cy="445.3"/></g><g id="gb58"><circle cx="105.3" cy="436"/></g><g id="gb59"><circle cx="117" cy="445.7"/></g><g id="gb60"><circle cx="105.3" cy="455"/></g>
<g id="gb61"><circle cx="83.7" cy="459.7"/></g><g id="gb62"><circle cx="170" cy="438.3"/></g><g id="gb63"><circle cx="28.7" cy="443.7"/></g><g id="gb64"><circle cx="34.7" cy="458"/></g><g id="gb65"><circle cx="21.3" cy="464"/></g><g id="gb66"><circle cx="20.3" cy="478.3"/></g><g id="gb67"><circle cx="46.3" cy="471.7"/></g><g id="gb68"><circle cx="60.7" cy="478"/></g><g id="gb69"><circle cx="46.3" cy="488.3"/></g><g id="gb70"><circle cx="60.3" cy="492.3"/></g>
<g id="gb71"><circle cx="148.3" cy="461.3"/></g><g id="gb72"><circle cx="161.3" cy="463.3"/></g><g id="gb73"><circle cx="252.3" cy="461"/></g><g id="gb74"><circle cx="181.7" cy="483.3"/></g><g id="gb75"><circle cx="195.7" cy="478.3"/></g><g id="gb76"><circle cx="207.3" cy="468"/></g><g id="gb77"><circle cx="209.3" cy="485.3"/></g><g id="gb78"><circle cx="221" cy="476.3"/></g><g id="gb79"><circle cx="235.7" cy="479"/></g><g id="gb80"><circle cx="92" cy="490.7"/></g>
<g id="gb81"><circle cx="118.3" cy="487.3"/></g><g id="gb82"><circle cx="144.3" cy="490.3"/></g><g id="gb83"><circle cx="152.3" cy="501.7"/></g><g id="gb84"><circle cx="154" cy="517"/></g><g id="gb85"><circle cx="141" cy="525"/></g><g id="gb86"><circle cx="160.7" cy="533"/></g><g id="gb87"><circle cx="145.7" cy="539"/></g><g id="gb88"><circle cx="173" cy="539"/></g><g id="gb89"><circle cx="134.3" cy="548.3"/></g><g id="gb90"><circle cx="46.7" cy="514"/></g>
<g id="gb91"><circle cx="65" cy="524.3"/></g><g id="gb92"><circle cx="88.3" cy="520"/></g><g id="gb93"><circle cx="102.3" cy="515.3"/></g><g id="gb94"><circle cx="110.3" cy="527.3"/></g><g id="gb95"><circle cx="88.7" cy="535.3"/></g><g id="gb96"><circle cx="103" cy="539.3"/></g><g id="gb97"><circle cx="188.3" cy="518.3"/></g><g id="gb98"><circle cx="200.7" cy="521.3"/></g><g id="gb99"><circle cx="212.7" cy="515.7"/></g><g id="gb100"><circle cx="225" cy="507.7"/></g>
</g>
</g>

<!-- panel captions -->
<g id="captions">
<text x="133" y="591" textLength="40" lengthAdjust="spacingAndGlyphs">true</text>
<text x="454.5" y="591" textLength="229" lengthAdjust="spacingAndGlyphs">forest density estimator</text>
<text x="775.5" y="591" textLength="54" lengthAdjust="spacingAndGlyphs">glasso</text>
</g>
</svg>
